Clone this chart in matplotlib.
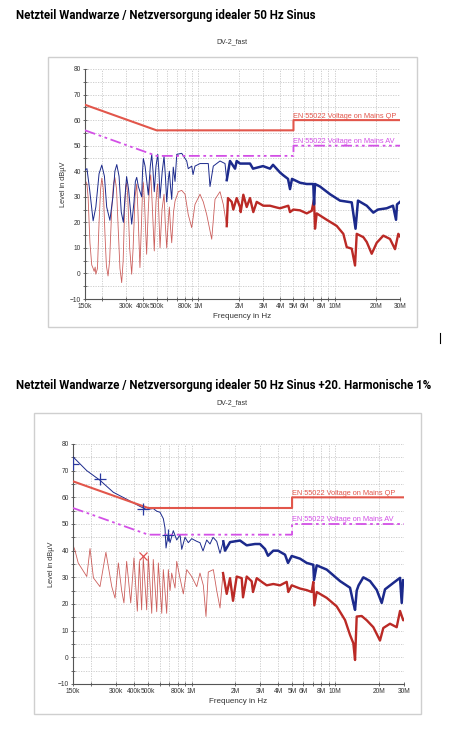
import matplotlib as mpl
mpl.use("Agg")
import matplotlib.pyplot as plt
from matplotlib.lines import Line2D
from matplotlib.patches import Rectangle
import numpy as np

plt.rcParams['font.family'] = ['Liberation Sans', 'DejaVu Sans']

titles = ["Netzteil Wandwarze / Netzversorgung idealer 50 Hz Sinus",
          "Netzteil Wandwarze / Netzversorgung idealer 50 Hz Sinus +20. Harmonische 1%"]
subtitle = "DV-2_fast"

tick_freqs = [150e3, 300e3, 400e3, 500e3, 800e3, 1e6, 2e6, 3e6, 4e6, 5e6, 6e6, 8e6, 10e6, 20e6, 30e6]
tick_labels = ['150k', '300k', '400k', '500k', '800k', '1M', '2M', '3M', '4M', '5M', '6M', '8M', '10M', '20M', '30M']
grid_freqs = [200e3, 300e3, 400e3, 500e3, 600e3, 700e3, 800e3, 900e3, 1e6, 2e6, 3e6, 4e6, 5e6,
              6e6, 7e6, 8e6, 9e6, 10e6, 20e6]

# EN 55022 limits
qp_f = [150e3, 500e3, 5e6, 5e6, 30e6]
qp_v = [66, 56, 56, 60, 60]
av_f = [150e3, 500e3, 5e6, 5e6, 30e6]
av_v = [56, 46, 46, 50, 50]

# chart 1: ideal sine (frequency in kHz, level in dBuV)
c1_qp_f = [150, 155, 162, 172, 180, 190, 199, 208, 216, 228, 240, 248, 256, 266, 276, 286, 294, 302,
           312, 329, 342, 350, 358, 368, 389, 395, 400, 412, 435, 450, 461, 471, 481, 495, 510, 520,
           530, 550, 567, 580, 593, 610, 620, 632, 645, 662, 682, 702, 763, 807, 830, 852, 903, 923,
           954, 1038, 1193, 1228, 1298, 1453, 1581, 1627, 1719, 1871, 1924, 2034, 2407, 2531, 2995,
           3369, 3545, 3987, 4193, 4561, 4717, 4878, 5580, 6248, 6981, 7063, 7183, 7815, 9246, 10937,
           13319, 14200, 14800, 17150, 19150, 20720, 23980, 26670, 28060, 28530, 30000]
c1_qp_v = [40.5, 41, 33, 20.6, 26, 39, 42.4, 38, 26, 20.8, 30, 40, 42.6, 38, 24, 20, 30, 37.9,
           33, 19.3, 28, 36, 37.6, 34, 30, 40, 45, 42, 30.7, 42, 46.6, 40, 32, 42, 46.6, 40,
           29.5, 40, 45.8, 38, 28, 37, 40, 34, 29, 41.6, 36, 46.6, 47, 45, 44, 41, 42, 38.7,
           42, 43, 43, 34, 42, 44, 43, 36.5, 44, 41, 44, 43, 43, 41, 42,
           41, 42.5, 39.5, 38.5, 37, 33, 37, 35.5, 35, 35, 27, 35, 34, 31, 28.5,
           27.8, 17.5, 28.5, 26.5, 23.8, 25, 25.5, 26.5, 21, 27, 28]
c1_av_f = [150, 155, 158, 163, 168, 172, 175, 178, 180, 185, 190, 195, 199, 204, 210, 215, 221, 227,
           235, 242, 248, 255, 262, 270, 278, 285, 292, 298, 302, 308, 318, 329, 337, 348, 358, 365,
           378, 388, 395, 400, 408, 423, 435, 446, 453, 462, 481, 495, 505, 510, 518, 530, 548, 567,
           578, 593, 608, 620, 632, 645, 665, 682, 721, 763, 807, 852, 903, 954, 1038, 1097, 1162, 1264,
           1336, 1453, 1536, 1627, 1662, 1769, 1818, 1924, 2034, 2058, 2151, 2277, 2407, 2544, 2694,
           3010, 3369, 3772, 3987, 4583, 4717, 4984, 5580, 6248, 6795, 7063, 7183, 7391, 8745, 10347,
           11565, 12245, 13319, 14080, 14490, 16190, 17150, 18640, 20280, 22660, 25350, 27580, 29160,
           30000]
c1_av_v = [36.6, 35, 30, 12, 3.3, 2, 0.8, 2.5, -0.3, 2, 20, 33, 37.3, 33, 15, 3, -1, 5,
           25, 35, 37.5, 33, 18, 2, -3.6, 5, 25, 34, 35.5, 30, 10, -0.3, 10, 30, 35, 25,
           2.3, 20, 33, 35.6, 28, 7.5, 25, 36, 38.6, 30, 8.8, 28, 34, 35, 25, 10, 25, 31,
           20, 10, 20, 26, 18, 12, 24, 28.3, 32, 32.5, 31, 23, 17.9, 27, 31, 28, 23, 13.4,
           29, 32, 27, 18.5, 29.5, 28, 25, 29.5, 26, 24, 30.8, 26, 29.5, 24, 28,
           26.5, 26.5, 25.8, 25.5, 26.5, 24, 25, 24.7, 23.5, 24.5, 28.9, 17.5, 23.5, 21, 18.6,
           15.5, 10.3, 9.7, 3.1, 15.5, 14.2, 12.3, 7.7, 12, 14.8, 13.5, 9.5, 15.5,
           14.5]

# chart 2: sine + 20th harmonic 1%
c2_qp_f = [150, 187, 231, 286, 354, 438, 488, 542, 573, 604, 637, 654, 665, 690, 709, 747, 789, 832,
           855, 901, 950, 1003, 1087, 1145, 1202, 1275, 1345, 1411, 1497, 1578, 1663, 1710, 1852, 2173,
           2419, 2763, 2993, 3243, 3402, 3703, 3993, 4466, 4686, 4973, 5679, 6321, 7026, 7104, 7418,
           8706, 10770, 12645, 13330, 13700, 14070, 14500, 15650, 17420, 19380, 21000, 22140, 25280,
           28150, 28930, 29540, 30000]
c2_qp_v = [75.2, 70, 66.4, 61.9, 59.3, 56.6, 55.4, 55.8, 54.8, 54.4, 52, 48.5, 41, 46.5, 43, 47.5, 44,
           46, 40.5, 45, 43, 44.5, 43.5, 43, 39.9, 44, 42.5, 45, 43.5, 39, 43.5, 40, 43.2, 43.8, 42,
           42.5, 42.5, 40.6, 38.1, 40, 40, 38.5, 35.4, 38, 37, 35.4, 34.7, 29, 34.5, 32.9, 28.6, 26.1,
           20.4, 17.8, 25, 27, 30, 28.6, 25.3, 20.4, 25.5, 27.9, 29.8, 20.4, 29, 28.5]
c2_av_f = [150, 155, 163, 187, 197, 208, 231, 254, 279, 294, 310, 327, 339, 354, 378, 398, 420, 434,
           450, 462, 488, 501, 529, 542, 573, 588, 621, 637, 672, 690, 709, 728, 768, 789, 832, 877,
           926, 1003, 1087, 1145, 1208, 1261, 1308, 1418, 1497, 1578, 1656, 1757, 1852, 1943, 2061,
           2233, 2280, 2419, 2620, 2676, 2840, 3076, 3333, 3703, 4124, 4588, 4709, 4973, 5679, 6321,
           6846, 7026, 7140, 7418, 8706, 10215, 11670, 12645, 13330, 13700, 14070, 15240, 16520, 18360,
           20430, 21540, 23980, 26690, 28150, 29620, 30000]
c2_av_v = [42.1, 40, 35.4, 30.3, 40.8, 29.8, 26.5, 39.4, 26.5, 22.2, 35.4, 25, 20.4, 36, 20.4, 37.3,
           17.3, 36, 17.8, 37.3, 17.8, 38, 16.5, 36.7, 17.1, 35.4, 16.5, 32.9, 16.5, 32.9, 25, 31.6, 26,
           36, 29.7, 23.8, 32.9, 30.3, 26.5, 31.6, 27, 15.3, 32, 32.9, 25, 18.5, 31.6, 23.8, 29.7, 21.2,
           30.3, 29.7, 22.5, 30.3, 28.5, 24.5, 29.7, 28.3, 27, 27.5, 27, 28.3, 24.5, 27, 25.8, 25.2, 24.5,
           28.3, 19.5, 24.5, 22.3, 19.1, 14, 8.4, 5.3, -1, 15.3, 15.5, 13.9, 11.3, 6.3, 11, 12.6, 11.3,
           17.4, 13.9, 14]

c2_qp_marks_f = [150, 231, 462, 690]
c2_qp_marks_v = [72.4, 66.9, 55.6, 45.8]
c2_av_marks_f = [462]
c2_av_marks_v = [38]

blue = '#1c2a8c'
red = '#bb2a26'
qp_col = '#e2564b'
av_col = '#d350e6'


def draw_panel(ax, qf, qv, af, av):
    qf = np.array(qf) * 1e3
    qv = np.array(qv)
    af = np.array(af) * 1e3
    av = np.array(av)
    ax.set_xscale('log')
    ax.set_xlim(150e3, 30e6)
    ax.set_ylim(-10, 80)
    for g in grid_freqs:
        ax.axvline(g, color='#c8c8c8', lw=0.6, ls=(0, (1.5, 1.5)), zorder=0)
    for y in range(-5, 81, 5):
        ax.axhline(y, color='#c8c8c8', lw=0.6, ls=(0, (1.5, 1.5)), zorder=0)
    ax.plot(af, av, color=red, lw=0.6, alpha=0.75, zorder=2)
    m = af >= 1.6e6
    ax.plot(af[m], av[m], color=red, lw=1.7, zorder=2)
    ax.plot(qf, qv, color=blue, lw=0.7, zorder=3)
    m = qf >= 1.6e6
    ax.plot(qf[m], qv[m], color=blue, lw=1.8, zorder=3)
    ax.plot(qp_f, qp_v, color=qp_col, lw=1.5, zorder=4)
    ax.plot(av_f, av_v, color=av_col, lw=1.3, ls=(0, (6, 2, 1.5, 2, 1.5, 2)), zorder=4)
    ax.text(5e6, 60.2, "EN 55022 Voltage on Mains QP", color=qp_col, fontsize=5.3, va='bottom', zorder=5)
    ax.text(5e6, 50.2, "EN 55022 Voltage on Mains AV", color=av_col, fontsize=5.3, va='bottom', zorder=5)
    ax.set_xticks(tick_freqs)
    ax.set_xticklabels(tick_labels)
    ax.set_xticks(grid_freqs, minor=True)
    ax.xaxis.set_minor_formatter(mpl.ticker.NullFormatter())
    ax.set_yticks(range(-10, 81, 10))
    ax.set_yticks(range(-5, 81, 10), minor=True)
    ax.tick_params(which='both', labelsize=4.8, colors='#555555', labelcolor='#333333',
                   direction='inout', length=3, width=0.6, pad=1.5)
    for s in ['top', 'right']:
        ax.spines[s].set_visible(False)
    for s in ['left', 'bottom']:
        ax.spines[s].set_color('#555555')
        ax.spines[s].set_linewidth(0.8)
    ax.set_xlabel("Frequency in Hz", fontsize=5.8, color='#333333', labelpad=2)
    ax.set_ylabel("Level in dBµV", fontsize=5.3, color='#333333', labelpad=2)


fig = plt.figure(figsize=(4.58, 7.34), dpi=100)

fig.add_artist(Rectangle((48 / 458, 1 - 327 / 734), 369 / 458, 270 / 734, transform=fig.transFigure,
                         fill=False, edgecolor='#cfcfcf', lw=1.0))
fig.add_artist(Rectangle((34 / 458, 1 - 714 / 734), 387 / 458, 301 / 734, transform=fig.transFigure,
                         fill=False, edgecolor='#cfcfcf', lw=1.0))
fig.add_artist(Line2D([440 / 458, 440 / 458], [1 - 343 / 734, 1 - 333 / 734], color='black', lw=0.8))

fig.text(16 / 458, 1 - 15 / 734, titles[0], fontsize=8.3, fontweight='bold', va='center', family=['Roboto', 'DejaVu Sans'])
fig.text(232 / 458, 1 - 42 / 734, subtitle, fontsize=5, ha='center', va='center', color='#333333')
fig.text(16 / 458, 1 - 385 / 734, titles[1], fontsize=8.3, fontweight='bold', va='center', family=['Roboto', 'DejaVu Sans'])
fig.text(232 / 458, 1 - 403 / 734, subtitle, fontsize=5, ha='center', va='center', color='#333333')

ax1 = fig.add_axes([85 / 458, 1 - 299 / 734, 315 / 458, 230 / 734])
draw_panel(ax1, c1_qp_f, c1_qp_v, c1_av_f, c1_av_v)

ax2 = fig.add_axes([73 / 458, 1 - 684 / 734, 331 / 458, 240 / 734])
draw_panel(ax2, c2_qp_f, c2_qp_v, c2_av_f, c2_av_v)
ax2.plot(np.array(c2_qp_marks_f) * 1e3, c2_qp_marks_v, '+', color='#2b3aa0', ms=8, mew=0.9, zorder=6)
ax2.plot(np.array(c2_av_marks_f) * 1e3, c2_av_marks_v, 'x', color='#e05050', ms=6, mew=0.9, zorder=6)

fig.savefig("out.png", dpi=100)
